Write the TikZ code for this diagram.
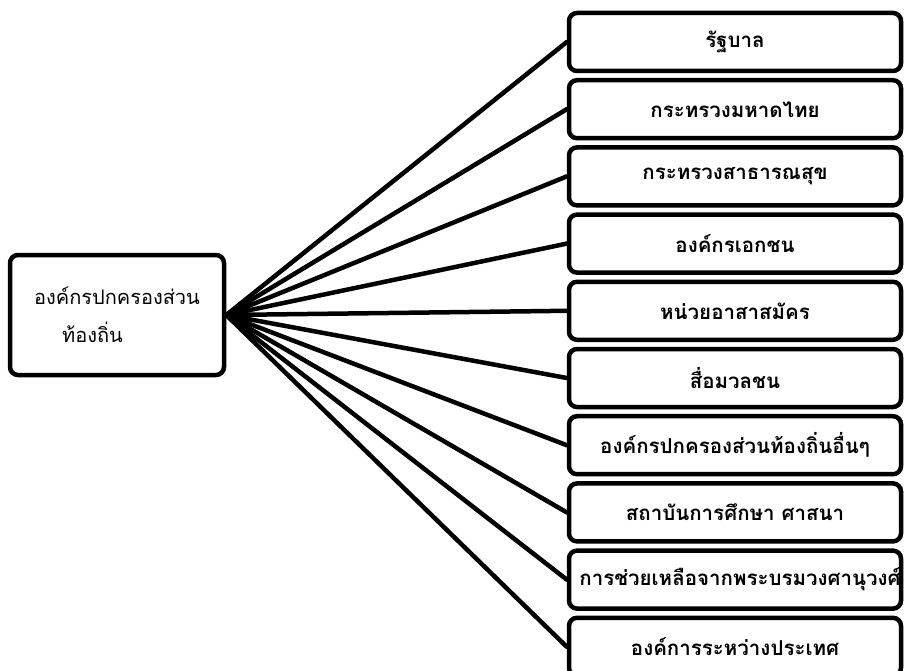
\documentclass[tikz,border=0pt]{standalone}
\usepackage{fontspec}
\newfontfamily\thaifont[Script=Thai]{Loma}
\begin{document}
\begin{tikzpicture}[x=1pt,y=-1pt,
  box/.style={draw=black, line width=4.5pt, rounded corners=8pt, fill=white, inner sep=0pt},
  rbox/.style={box, minimum width=332pt, minimum height=58pt, font=\thaifont\bfseries\fontsize{20.5}{24}\selectfont},
  link/.style={line width=4.5pt, line cap=round}]
\useasboundingbox (0,0) rectangle (904,671);
\node[box, minimum width=214pt, minimum height=120pt, align=left,
  font=\thaifont\fontsize{20}{38}\selectfont] (src) at (117,315)
  {องค์กรปกครองส่วน\\\hspace*{28pt}ท้องถิ่น};
\foreach \i/\t in {0/รัฐบาล, 1/กระทรวงมหาดไทย, 2/กระทรวงสาธารณสุข, 3/องค์กรเอกชน,
  4/หน่วยอาสาสมัคร, 5/สื่อมวลชน, 6/องค์กรปกครองส่วนท้องถิ่นอื่นๆ,
  7/สถาบันการศึกษา ศาสนา, 8/\hspace*{10pt}การช่วยเหลือจากพระบรมวงศานุวงศ์, 9/องค์การระหว่างประเทศ}{
  \node[rbox] (b\i) at (735,{42+67.2*\i}) {\t};
}
\foreach \i in {0,...,9}{
  \draw[link] (src.east) -- (b\i.west);
}
\end{tikzpicture}
\end{document}
